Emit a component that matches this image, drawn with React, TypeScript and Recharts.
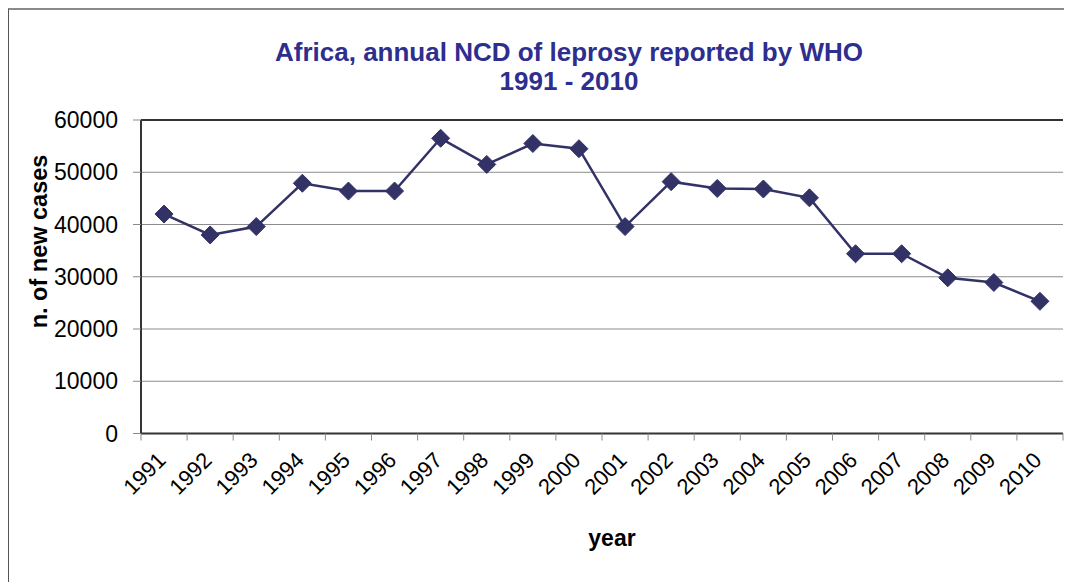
import React from 'react';
import { LineChart, Line, XAxis, YAxis, CartesianGrid, ReferenceLine } from 'recharts';

const years = ['1991', '1992', '1993', '1994', '1995', '1996', '1997', '1998', '1999', '2000',
  '2001', '2002', '2003', '2004', '2005', '2006', '2007', '2008', '2009', '2010'];
const newCases = [42000, 38000, 39600, 47900, 46400, 46400, 56500, 51500, 55500, 54500,
  39600, 48200, 46900, 46800, 45100, 34400, 34400, 29800, 28900, 25300];
const yTicks = [0, 10000, 20000, 30000, 40000, 50000, 60000];
const titleLines = ['Africa, annual NCD of leprosy reported by WHO', '1991 - 2010'];
const yLabel = 'n. of new cases';
const xLabel = 'year';

const data = years.map((year, i) => ({ year, cases: newCases[i] }));

const FONT = '"Liberation Sans", Arial, Helvetica, sans-serif';
const LINE = '#323266';

const Diamond = (props: any) => {
  const { cx, cy } = props;
  if (cx == null || cy == null) return null;
  const r = 9;
  return (
    <polygon
      points={`${cx},${cy - r} ${cx + r},${cy} ${cx},${cy + r} ${cx - r},${cy}`}
      fill={LINE}
      stroke={LINE}
      strokeWidth={1}
    />
  );
};

const XTick = (props: any) => {
  const { x, y, payload, index, visibleTicksCount } = props;
  const half = payload && payload.offset ? payload.offset : 23.05;
  const tx = x + 3;
  const ty = y + 28;
  return (
    <g>
      <line x1={x - half} y1={y} x2={x - half} y2={y + 7} stroke="#8a8a8a" strokeWidth={1} />
      {index === visibleTicksCount - 1 && (
        <line x1={x + half} y1={y} x2={x + half} y2={y + 7} stroke="#8a8a8a" strokeWidth={1} />
      )}
      <text
        x={tx}
        y={ty}
        textAnchor="end"
        transform={`rotate(-45 ${tx} ${ty})`}
        fontFamily={FONT}
        fontSize={22}
        fill="#000"
      >
        {payload.value}
      </text>
    </g>
  );
};

export default function App() {
  return (
    <div style={{ position: 'relative', width: 1064, height: 574, background: '#fff' }}>
      <div
        style={{
          position: 'absolute',
          left: 0,
          top: 0,
          width: 1064,
          height: 574,
          borderTop: '2px solid #8a8a8a',
          borderLeft: '1px solid #555',
          boxSizing: 'border-box',
        }}
      />
      <div
        style={{
          position: 'absolute',
          left: 161,
          top: 29.5,
          width: 800,
          textAlign: 'center',
          fontFamily: FONT,
          fontWeight: 'bold',
          fontSize: 26,
          lineHeight: '29px',
          color: '#2E2E8E',
        }}
      >
        {titleLines.map((t) => (
          <div key={t}>{t}</div>
        ))}
      </div>
      <div style={{ position: 'absolute', left: 0, top: 0 }}>
        <LineChart
          width={1064}
          height={574}
          data={data}
          margin={{ top: 112, right: 9, left: 0, bottom: 0 }}
        >
          <CartesianGrid horizontal vertical={false} stroke="#8c8c8c" strokeWidth={1} />
          <XAxis
            dataKey="year"
            scale="band"
            height={148.5}
            axisLine={{ stroke: '#333', strokeWidth: 2 }}
            tickLine={false}
            tickSize={0}
            tickMargin={0}
            interval={0}
            tick={<XTick />}
            label={{
              content: (p: any) => {
                const vb = p.viewBox || { x: 133, y: 425.5, width: 922, height: 148.5 };
                return (
                  <text
                    x={vb.x + vb.width / 2 + 10}
                    y={538}
                    textAnchor="middle"
                    fontFamily={FONT}
                    fontWeight="bold"
                    fontSize={23}
                    fill="#000"
                  >
                    {xLabel}
                  </text>
                );
              },
            }}
          />
          <YAxis
            width={133}
            domain={[0, 60000]}
            ticks={yTicks}
            interval={0}
            axisLine={{ stroke: '#333', strokeWidth: 2 }}
            tickLine={{ stroke: '#8a8a8a' }}
            tickSize={8}
            tickMargin={15}
            tick={{ fontFamily: FONT, fontSize: 23, fill: '#000' }}
            label={{
              content: () => (
                <text
                  x={39}
                  y={233.5}
                  textAnchor="middle"
                  transform="rotate(-90 39 233.5)"
                  fontFamily={FONT}
                  fontWeight="bold"
                  fontSize={23.5}
                  fill="#000"
                >
                  {yLabel}
                </text>
              ),
            }}
          />
          <YAxis
            yAxisId="right"
            orientation="right"
            width={0}
            domain={[0, 60000]}
            axisLine={{ stroke: '#333', strokeWidth: 2 }}
            tick={false}
            tickLine={false}
          />
          <ReferenceLine y={60000} stroke="#333" strokeWidth={2} />
          <Line
            type="linear"
            dataKey="cases"
            stroke={LINE}
            strokeWidth={2.5}
            dot={<Diamond />}
            activeDot={false}
            isAnimationActive={false}
          />
        </LineChart>
      </div>
    </div>
  );
}
